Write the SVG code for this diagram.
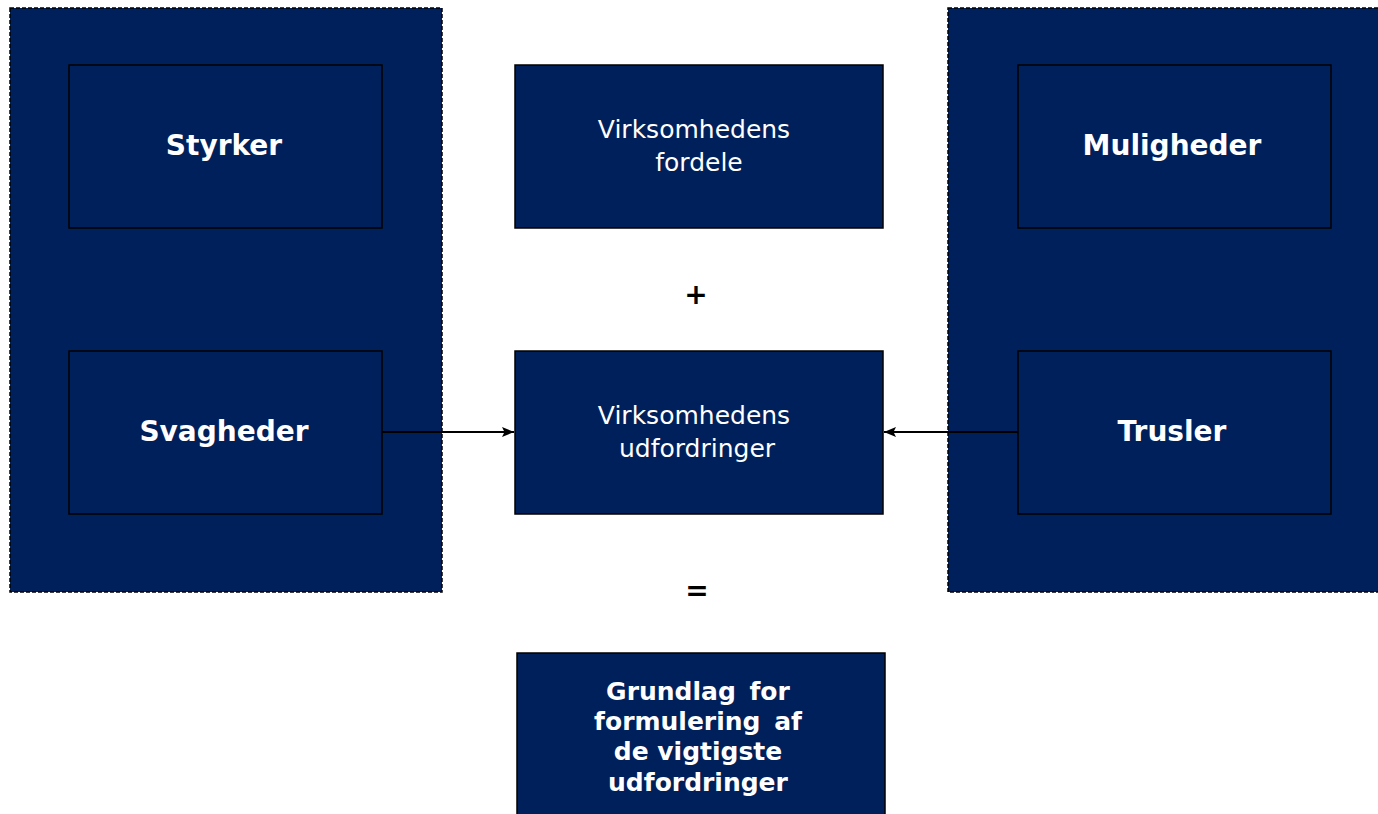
<svg xmlns="http://www.w3.org/2000/svg" width="1378" height="814" viewBox="0 0 1378 814">
  <style>
    .panel { fill: #00205b; stroke: #000; stroke-width: 1.5; stroke-dasharray: 4 2; }
    .box { fill: #00205b; stroke: #000; stroke-width: 1.5; }
    .lbl-b { font-family: "DejaVu Sans", Verdana, sans-serif; font-weight: bold; fill: #fff; text-anchor: middle; }
    .lbl { font-family: "DejaVu Sans", Verdana, sans-serif; fill: #fff; text-anchor: middle; }
    .op { font-family: "DejaVu Sans", Verdana, sans-serif; font-weight: bold; fill: #000; text-anchor: middle; font-size: 28px; }
    .conn { stroke: #000; stroke-width: 1.8; fill: none; }
  </style>
  <defs>
    <marker id="arrow" viewBox="0 0 12 10" refX="12" refY="5" markerWidth="12" markerHeight="10" markerUnits="userSpaceOnUse" orient="auto">
      <path d="M0,0 L12,5 L0,10 L2.5,5 Z" fill="#000"/>
    </marker>
  </defs>
  <rect width="1378" height="814" fill="#fff"/>

  <!-- side panels -->
  <g id="panel-internal"><rect class="panel" x="10" y="8" width="432" height="584"/></g>
  <g id="panel-external"><rect class="panel" x="948" y="8" width="440" height="584"/></g>

  <g id="styrker">
    <rect class="box" x="69" y="65" width="313" height="163"/>
    <text class="lbl-b" x="224" y="155" font-size="28">Styrker</text>
  </g>
  <g id="svagheder">
    <rect class="box" x="69" y="351" width="313" height="163"/>
    <text class="lbl-b" x="224" y="441" font-size="28">Svagheder</text>
  </g>
  <g id="muligheder">
    <rect class="box" x="1018" y="65" width="313" height="163"/>
    <text class="lbl-b" x="1172" y="155" font-size="28">Muligheder</text>
  </g>
  <g id="trusler">
    <rect class="box" x="1018" y="351" width="313" height="163"/>
    <text class="lbl-b" x="1172" y="441" font-size="28">Trusler</text>
  </g>

  <g id="fordele">
    <rect class="box" x="515" y="65" width="368" height="163"/>
    <text class="lbl" x="694" y="138" font-size="25">Virksomhedens</text>
    <text class="lbl" x="699" y="171" font-size="25">fordele</text>
  </g>
  <g id="udfordringer">
    <rect class="box" x="515" y="351" width="368" height="163"/>
    <text class="lbl" x="694" y="424" font-size="25">Virksomhedens</text>
    <text class="lbl" x="697" y="457" font-size="25">udfordringer</text>
  </g>

  <g id="plus"><text class="op" x="696" y="304">+</text></g>
  <g id="equals"><text class="op" x="697" y="600">=</text></g>

  <g id="grundlag">
    <rect class="box" x="517" y="653" width="368" height="170"/>
    <text class="lbl-b" x="698" y="700" font-size="25" word-spacing="5">Grundlag for</text>
    <text class="lbl-b" x="698" y="730" font-size="25" word-spacing="5">formulering af</text>
    <text class="lbl-b" x="698" y="760" font-size="25">de vigtigste</text>
    <text class="lbl-b" x="698" y="791" font-size="25">udfordringer</text>
  </g>

  <g id="connectors">
    <line class="conn" x1="382" y1="432" x2="514" y2="432" marker-end="url(#arrow)"/>
    <line class="conn" x1="1018" y1="432" x2="884" y2="432" marker-end="url(#arrow)"/>
  </g>
</svg>
